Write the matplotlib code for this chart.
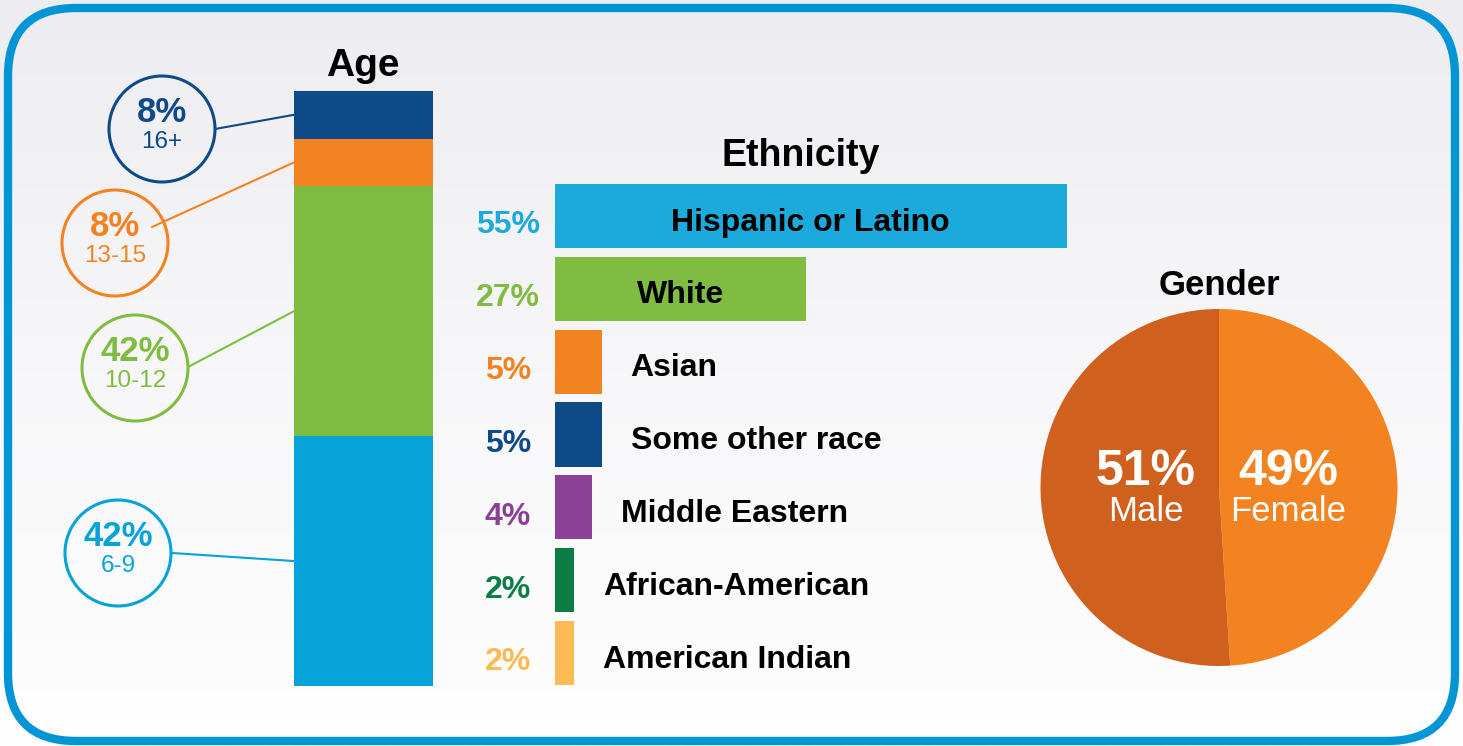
import numpy as np
import matplotlib
matplotlib.use('Agg')
import matplotlib.pyplot as plt
from matplotlib.patches import Circle, FancyBboxPatch, ConnectionPatch
from matplotlib.colors import LinearSegmentedColormap

plt.rcParams['font.family'] = ['Liberation Sans', 'DejaVu Sans']

# ---- data ----
age_groups = ['6-9', '10-12', '13-15', '16+']
age_pct = [42, 42, 8, 8]
age_colors = ['#05A3D8', '#80BC41', '#F38321', '#0D4A87']

eth_labels = ['Hispanic or Latino', 'White', 'Asian', 'Some other race',
              'Middle Eastern', 'African-American', 'American Indian']
eth_pct = [55, 27, 5, 5, 4, 2, 2]
eth_colors = ['#1CAADC', '#80BC41', '#F38321', '#0D4A87',
              '#8B4196', '#0D7D46', '#FDBB55']

gender_labels = ['Female', 'Male']
gender_pct = [49, 51]
gender_colors = ['#F38321', '#CF601D']

W, H = 1463, 746
fig = plt.figure(figsize=(W / 100, H / 100), dpi=100)

# background + rounded border (pixel coords, y down)
bg = fig.add_axes([0, 0, 1, 1])
grad = np.linspace(0, 1, 256).reshape(-1, 1)
cmap = LinearSegmentedColormap.from_list('bg', ['#EDEDF1', '#F7F7F9', '#FEFEFE'])
bg.imshow(grad, extent=[0, W, H, 0], cmap=cmap, aspect='auto', zorder=0)
bg.set_xlim(0, W)
bg.set_ylim(H, 0)
bg.axis('off')
border = FancyBboxPatch((8, 8), W - 16, H - 13, boxstyle='round,pad=0,rounding_size=68',
                        facecolor='none', edgecolor='#0096D6', linewidth=6, zorder=1)
bg.add_patch(border)

# titles
bg.text(363, 76, 'Age', ha='center', va='baseline', fontsize=28, fontweight='bold')
bg.text(801, 166, 'Ethnicity', ha='center', va='baseline', fontsize=27, fontweight='bold')
bg.text(1219, 295, 'Gender', ha='center', va='baseline', fontsize=25, fontweight='bold')

# ---- Age stacked bar ----
age_ax = fig.add_axes([294 / W, 1 - 686 / H, 139 / W, 595 / H])
bottom = 0
mids = []
for val, col in zip(age_pct, age_colors):
    age_ax.bar(0, val, bottom=bottom, width=1, color=col)
    mids.append(bottom + val / 2)
    bottom += val
age_ax.set_xlim(-0.5, 0.5)
age_ax.set_ylim(0, 100)
age_ax.axis('off')

# callout circles: center, line start
callouts = [((118, 553), (172, 553)),
            ((135, 368), (188, 367)),
            ((115, 243), (152, 227)),
            ((162, 129), (215, 129))]
for (center, start), grp, val, col, mid in zip(callouts, age_groups, age_pct, age_colors, mids):
    cx, cy = center
    bg.add_patch(Circle((cx, cy), 53, facecolor='none', edgecolor=col, linewidth=2.2, zorder=3))
    bg.text(cx, cy - 7, f'{val}%', ha='center', va='baseline', fontsize=25,
            fontweight='bold', color=col, zorder=4)
    bg.text(cx, cy + 19, grp, ha='center', va='baseline', fontsize=17.5, color=col, zorder=4)
    con = ConnectionPatch(xyA=start, coordsA=bg.transData, xyB=(-0.5, mid),
                          coordsB=age_ax.transData, color=col, linewidth=1.5)
    fig.add_artist(con)

# ---- Ethnicity horizontal bars ----
px_per_pct = 9.3
eth_ax = fig.add_axes([555 / W, 1 - 689.4 / H, 700 / W, 509.8 / H])
y = np.arange(len(eth_labels))
eth_ax.barh(y, eth_pct, height=0.88, color=eth_colors)
eth_ax.set_xlim(0, 700 / px_per_pct)
eth_ax.set_ylim(len(eth_labels) - 0.5, -0.5)
eth_ax.axis('off')
for i, (lab, val, col) in enumerate(zip(eth_labels, eth_pct, eth_colors)):
    eth_ax.annotate(f'{val}%', xy=(0, i), xytext=(-34, -12.5), textcoords='offset points',
                    ha='center', va='baseline', fontsize=23, fontweight='bold', color=col)
    if val > 20:
        eth_ax.annotate(lab, xy=(val / 2, i), xytext=(0, -10.5), textcoords='offset points',
                        ha='center', va='baseline', fontsize=23, fontweight='bold', color='black')
    else:
        eth_ax.annotate(lab, xy=(val, i), xytext=(21, -10.5), textcoords='offset points',
                        ha='left', va='baseline', fontsize=23, fontweight='bold', color='black')

# ---- Gender pie ----
pie_ax = fig.add_axes([1040.5 / W, 80 / H, 357 / W, 357 / H])
pie_ax.pie(gender_pct, colors=gender_colors, startangle=90, counterclock=False, radius=1)
pie_ax.set_xlim(-1, 1)
pie_ax.set_ylim(-1, 1)
for lab, val, x in zip(gender_labels, gender_pct, [0.39, -0.41]):
    pie_ax.text(x, 0.016, f'{val}%', ha='center', va='baseline', fontsize=36,
                fontweight='bold', color='white')
    pie_ax.text(x, -0.185, lab, ha='center', va='baseline', fontsize=25, color='white')

fig.savefig('out.png', dpi=100)
